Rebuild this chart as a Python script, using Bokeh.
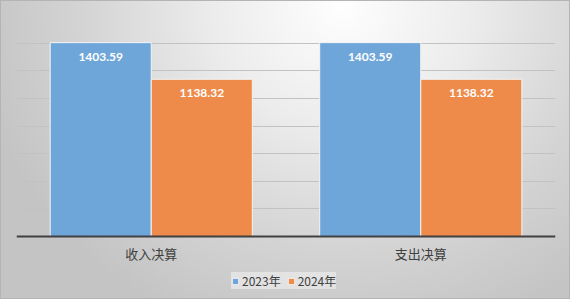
from bokeh.plotting import figure
from bokeh.models import ColumnDataSource, Range1d, Legend, LegendItem, FactorRange
from bokeh.transform import dodge
from bokeh.core.properties import value
from bokeh.embed import file_html
from bokeh.resources import INLINE

categories = ["收入决算", "支出决算"]
series_names = ["2023年", "2024年"]
values_2023 = [1403.59, 1403.59]
values_2024 = [1138.32, 1138.32]
y_ticks = [0, 200, 400, 600, 800, 1000, 1200, 1400, 1600]

colors = ["#6FA6DA", "#EE8B4B"]

src = ColumnDataSource(dict(
    cat=categories,
    v1=values_2023,
    v2=values_2024,
    t1=["%.2f" % v for v in values_2023],
    t2=["%.2f" % v for v in values_2024],
))

# value axis: 0..1600 over the plotting area; extra room below 0 holds labels and legend
y_bottom = -456
p = figure(width=570, height=299, x_range=FactorRange(*categories), y_range=Range1d(y_bottom, 1600),
           output_backend="svg", toolbar_location=None,
           min_border_left=16, min_border_right=15, min_border_top=15, min_border_bottom=0)
p.styles = {"background": "radial-gradient(ellipse 65% 115% at 60% 2%, #fefefe 0%, #ececec 35%, #d4d4d4 70%, #c4c4c4 100%)",
            "box-shadow": "inset 0 0 0 1px #b4b4b4"}
p.border_fill_alpha = 0
p.background_fill_alpha = 0
p.outline_line_color = None

p.x_range.range_padding = 0
p.x_range.group_padding = 0

b1 = p.vbar(x=dodge("cat", -0.1875, range=p.x_range), top="v1", width=0.375, source=src,
            fill_color=colors[0], line_color="#f4f4f4", line_width=1)
b2 = p.vbar(x=dodge("cat", 0.1875, range=p.x_range), top="v2", width=0.375, source=src,
            fill_color=colors[1], line_color="#f4f4f4", line_width=1)

for col, tcol, off in (("v1", "t1", -0.1875), ("v2", "t2", 0.1875)):
    p.text(x=dodge("cat", off, range=p.x_range), y=col, text=tcol, source=src,
           text_color="white", text_font=value("Lato"), text_font_style="bold",
           text_font_size="12px", text_align="center", text_baseline="middle", y_offset=14)

p.yaxis.visible = False
p.ygrid.ticker = y_ticks
p.ygrid.grid_line_color = "#c2c2c2"
p.ygrid.grid_line_width = 1
p.xgrid.visible = False

ax = p.xaxis[0]
ax.fixed_location = 0
ax.axis_line_color = "#404040"
ax.axis_line_width = 2
ax.major_tick_line_color = None
ax.minor_tick_line_color = None
ax.major_tick_out = 0
ax.major_label_text_font = "Noto Sans CJK SC"
ax.major_label_text_font_size = "13px"
ax.major_label_text_color = "#404040"
ax.major_label_standoff = 7

legend = Legend(items=[LegendItem(label=series_names[0], renderers=[b1]),
                       LegendItem(label=series_names[1], renderers=[b2])],
                orientation="horizontal", location=(215, 10),
                label_text_font="Noto Sans CJK SC", label_text_font_size="12px",
                label_text_color="#404040", glyph_width=8, glyph_height=8,
                label_standoff=3, spacing=6, padding=4, margin=0,
                background_fill_color="#e4e4e4", background_fill_alpha=0.9,
                border_line_color=None, label_height=14)
p.add_layout(legend, "center")

open("out.html", "w").write(file_html(p, INLINE))
